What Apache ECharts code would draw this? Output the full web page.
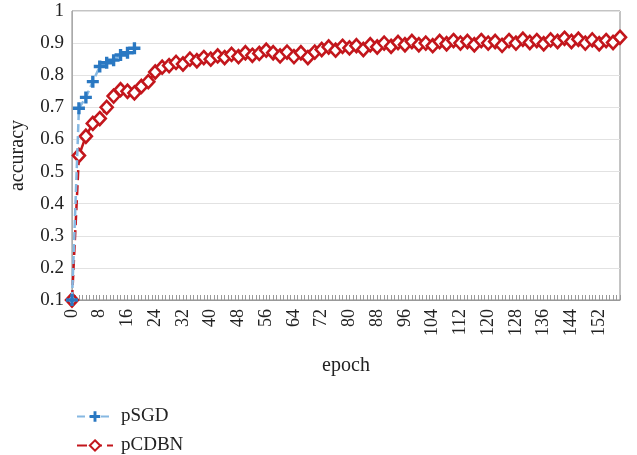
<!DOCTYPE html>
<html>
<head>
<meta charset="utf-8">
<script src="https://cdn.jsdelivr.net/npm/echarts@6/dist/echarts.min.js"></script>
<style>
html,body{margin:0;padding:0;background:#fff;}
#chart{width:637px;height:455px;}
</style>
</head>
<body>
<div id="chart"></div>
<script>
// Data
const sgdEpochs = [0, 2, 4, 6, 8, 10, 12, 14, 16, 18];
const sgdAcc = [0.10, 0.697, 0.731, 0.780, 0.827, 0.839, 0.847, 0.863, 0.870, 0.884];

// pCDBN recorded every 2 epochs: 0, 2, 4, ..., 158
const cdbnAcc = [
  0.100, 0.550, 0.610, 0.650, 0.665, 0.700, 0.735, 0.755, 0.750, 0.745,
  0.765, 0.780, 0.810, 0.825, 0.830, 0.840, 0.835, 0.850, 0.845, 0.855,
  0.850, 0.860, 0.855, 0.865, 0.858, 0.870, 0.862, 0.868, 0.878, 0.870,
  0.860, 0.872, 0.858, 0.870, 0.855, 0.872, 0.880, 0.888, 0.878, 0.890,
  0.885, 0.892, 0.880, 0.895, 0.888, 0.900, 0.890, 0.902, 0.895, 0.905,
  0.895, 0.900, 0.892, 0.905, 0.898, 0.908, 0.900, 0.905, 0.895, 0.908,
  0.900, 0.905, 0.893, 0.908, 0.900, 0.912, 0.902, 0.908, 0.898, 0.910,
  0.905, 0.915, 0.905, 0.912, 0.900, 0.910, 0.898, 0.908, 0.902, 0.918
];
const cdbnEpochs = cdbnAcc.map((_, i) => i * 2);

const xName = 'epoch';
const yName = 'accuracy';
const seriesNames = ['pSGD', 'pCDBN'];

const FONT = 'Liberation Serif';
const chart = echarts.init(document.getElementById('chart'), null, {renderer: 'canvas'});
const plusPath = 'path://M3.6,0H6.4V3.6H10V6.4H6.4V10H3.6V6.4H0V3.6H3.6Z';

const legendBase = {
  orient: 'vertical', left: 71, itemGap: 11,
  itemWidth: 36, itemHeight: 13,
  textStyle: {fontFamily: FONT, fontSize: 19, color: '#222', padding: [0, 0, 0, 3]}
};

chart.setOption({
  animation: false,
  backgroundColor: '#fff',
  textStyle: {fontFamily: FONT},
  grid: {left: 71, right: 17, top: 11, bottom: 155, show: true, borderColor: '#888', borderWidth: 1},
  xAxis: {
    type: 'value', min: 0, max: 158, interval: 8,
    name: xName, nameLocation: 'middle', nameGap: 56,
    nameTextStyle: {fontFamily: FONT, fontSize: 20, color: '#222'},
    axisLine: {show: true, lineStyle: {color: '#999'}},
    axisTick: {show: true, inside: true, length: 5, lineStyle: {color: '#999'}},
    minorTick: {show: true, splitNumber: 8, length: 5, lineStyle: {color: '#999'}},
    axisLabel: {rotate: 90, margin: 9, fontFamily: FONT, fontSize: 18, color: '#222', showMaxLabel: false},
    splitLine: {show: false}
  },
  yAxis: {
    type: 'value', min: 0.1, max: 1, interval: 0.1,
    name: yName, nameLocation: 'middle', nameGap: 44,
    nameTextStyle: {fontFamily: FONT, fontSize: 20, color: '#222'},
    axisLine: {show: true, lineStyle: {color: '#aaa'}},
    axisTick: {show: false},
    axisLabel: {margin: 8, fontFamily: FONT, fontSize: 19, color: '#222',
      formatter: v => String(Math.round(v * 10) / 10)},
    splitLine: {show: true, lineStyle: {color: '#e2e2e2'}}
  },
  legend: [
    Object.assign({}, legendBase, {top: 402, data: [seriesNames[0]]}),
    Object.assign({}, legendBase, {top: 431, data: [seriesNames[1]]})
  ],
  series: [
    {
      name: seriesNames[1], type: 'line',
      data: cdbnEpochs.map((e, i) => [e, cdbnAcc[i]]),
      symbol: 'diamond', symbolSize: [12, 13],
      lineStyle: {color: '#c3161c', width: 2.5, type: [10, 5]},
      itemStyle: {color: '#fff', borderColor: '#c3161c', borderWidth: 2.6},
      z: 2
    },
    {
      name: seriesNames[0], type: 'line',
      data: sgdEpochs.map((e, i) => [e, sgdAcc[i]]),
      symbol: plusPath, symbolSize: 12,
      lineStyle: {color: '#86b8e2', width: 2.5, type: [8, 4]},
      itemStyle: {color: '#2a78c2', borderWidth: 0},
      z: 3
    }
  ]
});
</script>
</body>
</html>
